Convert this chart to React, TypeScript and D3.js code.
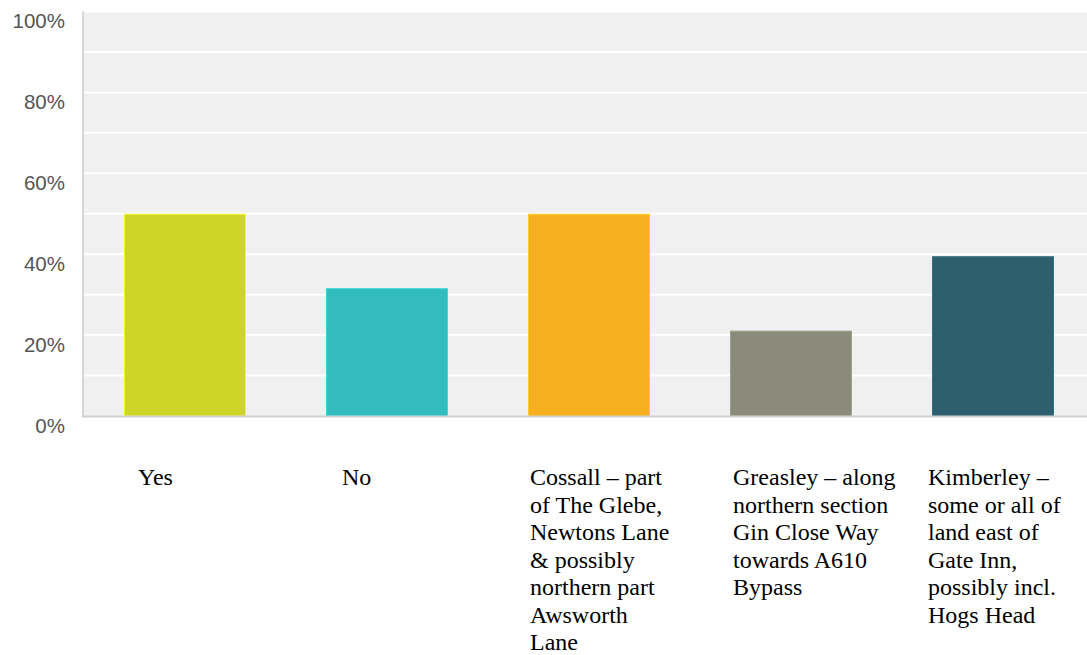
import React from "react";
import * as d3 from "d3";

// Survey responses (share of respondents)
const categories: string[][] = [
  ["Yes"],
  ["No"],
  ["Cossall – part", "of The Glebe,", "Newtons Lane", "& possibly", "northern part", "Awsworth", "Lane"],
  ["Greasley – along", "northern section", "Gin Close Way", "towards A610", "Bypass"],
  ["Kimberley –", "some or all of", "land east of", "Gate Inn,", "possibly incl.", "Hogs Head"],
];
const values: number[] = [50, 31.6, 50, 21.1, 39.5];
const barColors: string[] = ["#cfd527", "#33bcbe", "#f6af1f", "#8a8b7a", "#2e5f6c"];
const yTicks: number[] = [0, 20, 40, 60, 80, 100];
const gridTicks: number[] = [10, 20, 30, 40, 50, 60, 70, 80, 90, 100];

// Horizontal shift of each category label relative to its band centre
const labelShift: number[] = [-47, -45, -59, -58, -65];

const W = 1087;
const H = 655;
const plot = { left: 84, top: 11.5, right: 1094, bottom: 416 };

export default function App() {
  const x = d3
    .scaleBand<number>()
    .domain(d3.range(values.length))
    .range([plot.left, plot.right])
    .paddingInner(0.396)
    .paddingOuter(0.198);
  const y = d3.scaleLinear().domain([0, 100]).range([plot.bottom, plot.top]);

  return (
    <svg
      width={W}
      height={H}
      style={{ position: "absolute", left: 0, top: 0, background: "#fff" }}
    >
      <rect
        x={plot.left}
        y={plot.top}
        width={plot.right - plot.left}
        height={plot.bottom - plot.top}
        fill="#f0f0f0"
      />
      {gridTicks.map((t) => (
        <line
          key={t}
          x1={plot.left}
          x2={plot.right}
          y1={y(t)}
          y2={y(t)}
          stroke="#ffffff"
          strokeWidth={2}
        />
      ))}
      <line x1={plot.left - 1} x2={plot.left - 1} y1={plot.top} y2={plot.bottom + 1} stroke="#d6d6d6" strokeWidth={2} />
      {values.map((v, i) => (
        <rect
          key={i}
          x={x(i)! + 0.5}
          y={y(v) + 0.5}
          width={x.bandwidth() - 1}
          height={y(0) - y(v) - 0.5}
          fill={barColors[i]}
          stroke={d3.color(barColors[i])!.brighter(0.4).formatHex()}
          strokeWidth={1}
        />
      ))}
      <line x1={plot.left - 2} x2={plot.right} y1={plot.bottom + 0.5} y2={plot.bottom + 0.5} stroke="#d0d0d0" strokeWidth={2} />
      {yTicks.map((t) => (
        <text
          key={t}
          x={65}
          y={y(t) + 9}
          textAnchor="end"
          dominantBaseline="central"
          fontFamily="'Liberation Sans', Arial, sans-serif"
          fontSize={20.5}
          fill="#555555"
        >
          {t}%
        </text>
      ))}
      {categories.map((lines, i) => {
        const lx = x(i)! + x.bandwidth() / 2 + labelShift[i];
        return (
          <text
            key={i}
            x={lx}
            y={485}
            fontFamily="'Liberation Serif', 'Times New Roman', serif"
            fontSize={24}
            fill="#000"
          >
            {lines.map((ln, j) => (
              <tspan key={j} x={lx} dy={j === 0 ? 0 : 27.5}>
                {ln}
              </tspan>
            ))}
          </text>
        );
      })}
    </svg>
  );
}
